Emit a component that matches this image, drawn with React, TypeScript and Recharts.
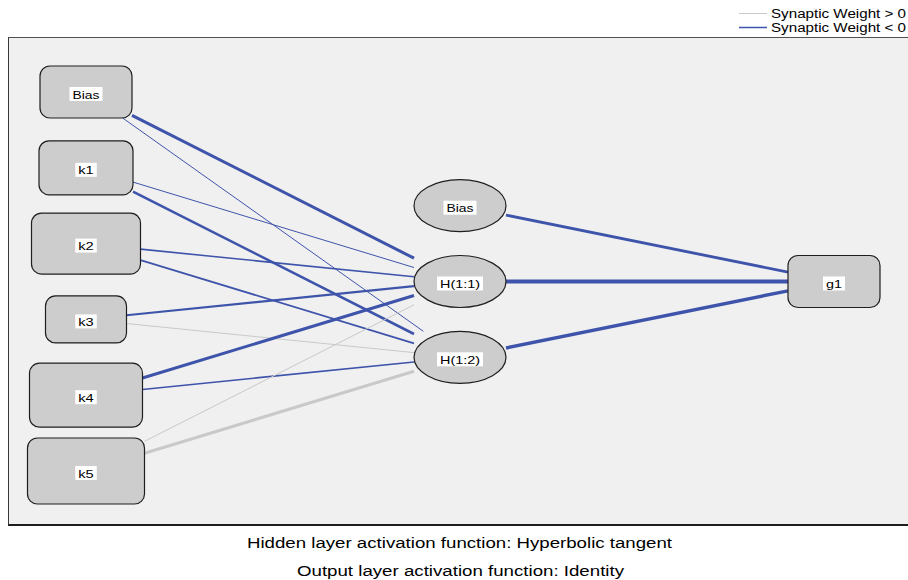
import React from 'react';
import { ScatterChart, Scatter, XAxis, YAxis } from 'recharts';

// ---------- data ----------
const inputNodes = ['Bias', 'k1', 'k2', 'k3', 'k4', 'k5'];
const hiddenNodes = ['Bias', 'H(1:1)', 'H(1:2)'];
const outputNodes = ['g1'];

// synaptic weights from each input node to H(1:1) and H(1:2)
const weightsToH11 = [-1.0, -0.32, -0.52, -0.7, -1.02, 0.3];
const weightsToH12 = [-0.3, -0.85, -0.58, 0.3, -0.56, 1.0];
// synaptic weights from hidden nodes (Bias, H(1:1), H(1:2)) to g1
const weightsToG1 = [-0.95, -1.35, -1.15];

const legendLabels = ['Synaptic Weight > 0', 'Synaptic Weight < 0'];
const footnotes = [
  'Hidden layer activation function: Hyperbolic tangent',
  'Output layer activation function: Identity',
];

// ---------- styles / layout ----------
const W = 908;
const H = 580;
const X0 = 86;
const XSTEP = 374;
const Y0 = 92;
const YSTEP = 75.8;
const SLOTS = 6;
const X_DOMAIN: [number, number] = [(0 - X0) / XSTEP, (W - X0) / XSTEP];
const Y_DOMAIN: [number, number] = [(0 - Y0) / YSTEP, (H - Y0) / YSTEP];

const POS_COLOR = '#c9c9c9';
const NEG_COLOR = '#3e54ab';
const FONT = '"Liberation Sans", Arial, sans-serif';

const inputBoxSizes: [number, number][] = [
  [92, 52],
  [94, 54],
  [109, 61],
  [81, 47],
  [113, 64],
  [117, 66],
];
const ellipseSize: [number, number] = [92, 52];
const outputBoxSize: [number, number] = [92, 52];
const labelWidths: Record<string, number> = {
  Bias: 27,
  k1: 15.5,
  k2: 15.5,
  k3: 15.5,
  k4: 15.5,
  k5: 15.5,
  'H(1:1)': 40,
  'H(1:2)': 40,
  g1: 16,
};

const layers = [inputNodes, hiddenNodes, outputNodes];

type NodeDatum = { x: number; y: number; name: string; layer: number; idx: number };

const nodeData: NodeDatum[][] = layers.map((names, layer) => {
  const offset = (SLOTS - names.length) / 2;
  return names.map((name, idx) => ({ x: layer, y: idx + offset, name, layer, idx }));
});

const sizeOf = (layer: number, idx: number): [number, number] =>
  layer === 0 ? inputBoxSizes[idx] : layer === 1 ? ellipseSize : outputBoxSize;

const toPx = (d: NodeDatum) => ({ px: X0 + d.x * XSTEP, py: Y0 + d.y * YSTEP });

type Edge = { points: { x: number; y: number }[]; color: string; width: number };

function makeEdge(a: NodeDatum, b: NodeDatum, w: number): Edge {
  const pa = toPx(a);
  const pb = toPx(b);
  const dx = pb.px - pa.px;
  const dy = pb.py - pa.py;
  const [sw, sh] = sizeOf(a.layer, a.idx);
  const [tw, th] = sizeOf(b.layer, b.idx);
  const lim = (hw: number, hh: number) =>
    Math.min(dx !== 0 ? hw / Math.abs(dx) : Infinity, dy !== 0 ? hh / Math.abs(dy) : Infinity);
  const ts = lim(sw / 2, sh / 2);
  const te = 1 - lim(tw / 2, th / 2);
  const pt = (t: number) => ({
    x: (pa.px + dx * t - X0) / XSTEP,
    y: (pa.py + dy * t - Y0) / YSTEP,
  });
  return {
    points: [pt(ts), pt(te)],
    color: w > 0 ? POS_COLOR : NEG_COLOR,
    width: Math.max(1, 3 * Math.abs(w)),
  };
}

const edges: Edge[] = [];
nodeData[0].forEach((n, i) => {
  edges.push(makeEdge(n, nodeData[1][1], weightsToH11[i]));
  edges.push(makeEdge(n, nodeData[1][2], weightsToH12[i]));
});
nodeData[1].forEach((n, i) => {
  edges.push(makeEdge(n, nodeData[2][0], weightsToG1[i]));
});

const NodeShape = (props: any) => {
  const { cx, cy, payload } = props;
  const { layer, idx, name } = payload as NodeDatum;
  const [w, h] = sizeOf(layer, idx);
  const tw = labelWidths[name] ?? 20;
  return (
    <g>
      {layer === 1 ? (
        <ellipse cx={cx} cy={cy} rx={w / 2} ry={h / 2} fill="#cdcdcd" stroke="#1e1e1e" strokeWidth={1.2} />
      ) : (
        <rect
          x={cx - w / 2}
          y={cy - h / 2}
          width={w}
          height={h}
          rx={10}
          ry={10}
          fill="#cdcdcd"
          stroke="#1e1e1e"
          strokeWidth={1.2}
        />
      )}
      <rect x={cx - tw / 2 - 3} y={cy - 5} width={tw + 6} height={14} fill="#ffffff" />
      <text
        x={cx - tw / 2}
        y={cy + 6.5}
        fontSize={11}
        fontFamily={FONT}
        fill="#000"
        textLength={tw}
        lengthAdjust="spacingAndGlyphs"
      >
        {name}
      </text>
    </g>
  );
};

const Empty = () => <g />;

export default function App() {
  return (
    <div style={{ position: 'absolute', left: 0, top: 0, width: W, height: H, background: '#fff', overflow: 'hidden' }}>
      <div
        style={{
          position: 'absolute',
          left: 8,
          top: 37,
          width: 920,
          height: 489,
          background: '#f0f0f0',
          borderLeft: '1px solid #3a3a3a',
          borderTop: '1px solid #505050',
          borderBottom: '2px solid #1e1e1e',
          boxSizing: 'border-box',
        }}
      />
      <div style={{ position: 'absolute', left: 0, top: 0 }}>
        <ScatterChart width={W} height={H} margin={{ top: 0, right: 0, bottom: 0, left: 0 }}>
          <XAxis type="number" dataKey="x" domain={X_DOMAIN} hide allowDataOverflow />
          <YAxis type="number" dataKey="y" domain={Y_DOMAIN} hide allowDataOverflow reversed />
          {edges.map((e, i) => (
            <Scatter
              key={'e' + i}
              data={e.points}
              line={{ stroke: e.color, strokeWidth: e.width, fill: 'none' }}
              shape={Empty}
              isAnimationActive={false}
              legendType="none"
            />
          ))}
          {nodeData.map((layerNodes, li) => (
            <Scatter
              key={'n' + li}
              data={layerNodes}
              shape={NodeShape}
              isAnimationActive={false}
              legendType="none"
            />
          ))}
        </ScatterChart>
      </div>
      <svg width={W} height={H} style={{ position: 'absolute', left: 0, top: 0, pointerEvents: 'none' }}>
        {legendLabels.map((lab, i) => (
          <g key={lab}>
            <line
              x1={739}
              x2={767}
              y1={13.5 + i * 14}
              y2={13.5 + i * 14}
              stroke={i === 0 ? POS_COLOR : NEG_COLOR}
              strokeWidth={i === 0 ? 1 : 1.5}
            />
            <text
              x={771}
              y={18 + i * 14}
              fontSize={12}
              fontFamily={FONT}
              fill="#000"
              textLength={135}
              lengthAdjust="spacingAndGlyphs"
            >
              {lab}
            </text>
          </g>
        ))}
        {footnotes.map((t, i) => (
          <text
            key={t}
            x={i === 0 ? 247 : 297}
            y={548 + i * 28}
            fontSize={14}
            fontFamily={FONT}
            fill="#000"
            textLength={i === 0 ? 425 : 327}
            lengthAdjust="spacingAndGlyphs"
          >
            {t}
          </text>
        ))}
      </svg>
    </div>
  );
}
